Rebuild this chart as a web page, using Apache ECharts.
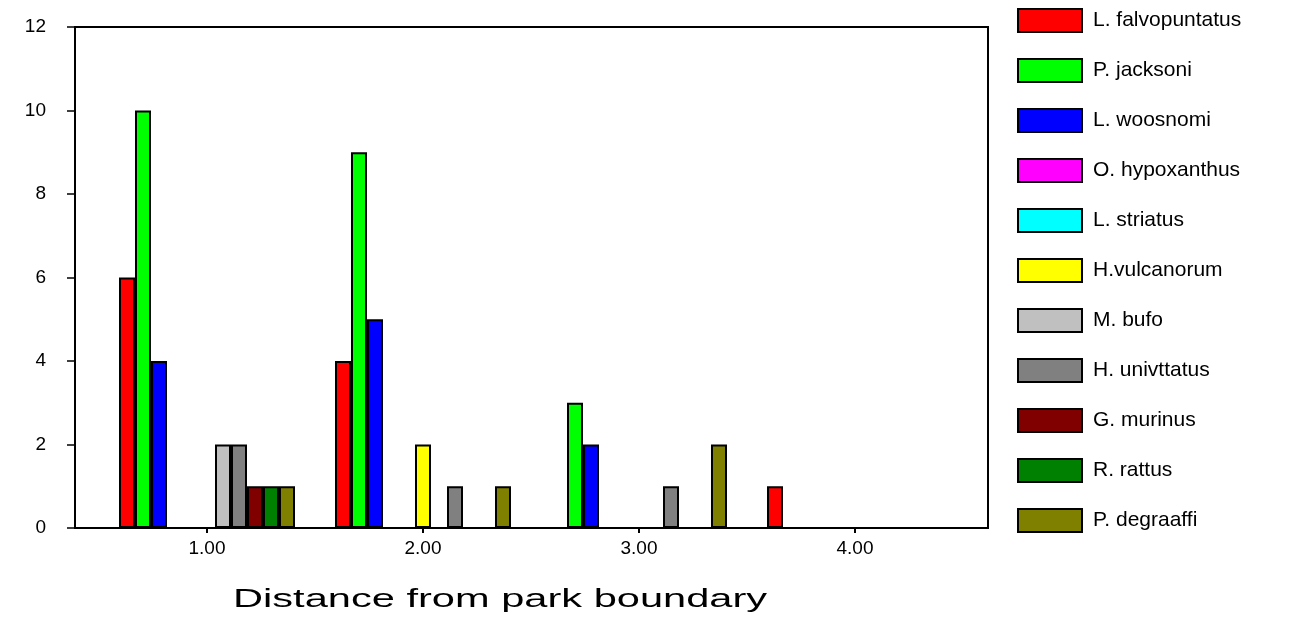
<!DOCTYPE html>
<html>
<head>
<meta charset="utf-8">
<script src="https://cdn.jsdelivr.net/npm/echarts@6/dist/echarts.min.js"></script>
<style>html,body{margin:0;padding:0;background:#fff;}#c{width:1311px;height:619px;}</style>
</head>
<body>
<div id="c"></div>
<script>
var categories = ['1.00', '2.00', '3.00', '4.00'];
var speciesNames = ['L. falvopuntatus', 'P. jacksoni', 'L. woosnomi', 'O. hypoxanthus', 'L. striatus', 'H.vulcanorum', 'M. bufo', 'H. univttatus', 'G. murinus', 'R. rattus', 'P. degraaffi'];
var speciesColors = ['#ff0000', '#00ff00', '#0000ff', '#ff00ff', '#00ffff', '#ffff00', '#c0c0c0', '#808080', '#800000', '#008000', '#808000'];
var lFalvopuntatus = [6, 4, 0, 1];
var pJacksoni = [10, 9, 3, 0];
var lWoosnomi = [4, 5, 2, 0];
var oHypoxanthus = [0, 0, 0, 0];
var lStriatus = [0, 0, 0, 0];
var hVulcanorum = [0, 2, 0, 0];
var mBufo = [2, 0, 0, 0];
var hUnivttatus = [2, 1, 1, 0];
var gMurinus = [1, 0, 0, 0];
var rRattus = [1, 0, 0, 0];
var pDegraaffi = [1, 1, 2, 0];
var yTicks = [0, 2, 4, 6, 8, 10, 12];
var xTitle = 'Distance from park boundary';

var seriesValues = [lFalvopuntatus, pJacksoni, lWoosnomi, oHypoxanthus, lStriatus, hVulcanorum, mBufo, hUnivttatus, gMurinus, rRattus, pDegraaffi];

var FONT = '"Liberation Sans", Arial, sans-serif';
var chart = echarts.init(document.getElementById('c'), null, {renderer: 'canvas'});

var series = speciesNames.map(function (name, i) {
  return {
    name: name,
    type: 'bar',
    xAxisIndex: 0,
    yAxisIndex: 0,
    data: seriesValues[i],
    barWidth: 16,
    barGap: '0%',
    itemStyle: {color: speciesColors[i], borderColor: '#000', borderWidth: 2},
    emphasis: {disabled: true},
    animation: false
  };
});

chart.setOption({
  animation: false,
  backgroundColor: '#fff',
  grid: [
    {left: 99, right: 348, top: 27, bottom: 91, containLabel: false},
    {left: 75, right: 323, top: 27, bottom: 91, containLabel: false, show: true, borderColor: '#000', borderWidth: 2, backgroundColor: 'transparent', z: 0}
  ],
  xAxis: [
    {
      type: 'category', gridIndex: 0, data: categories,
      axisLine: {show: false},
      axisTick: {show: true, alignWithLabel: true, length: 5, lineStyle: {color: '#000', width: 2}},
      axisLabel: {color: '#000', fontSize: 19, fontFamily: FONT, margin: 11},
      splitLine: {show: false}
    },
    {
      type: 'value', gridIndex: 1, min: 0, max: 1,
      axisLine: {show: true, onZero: false, lineStyle: {color: '#000', width: 2}},
      axisTick: {show: false}, axisLabel: {show: false}, splitLine: {show: false}
    }
  ],
  yAxis: [
    {type: 'value', gridIndex: 0, min: 0, max: 12, interval: 2, show: false, splitLine: {show: false}},
    {
      type: 'value', gridIndex: 1, min: yTicks[0], max: yTicks[yTicks.length - 1], interval: 2,
      axisLine: {show: true, lineStyle: {color: '#000', width: 2}},
      axisTick: {show: true, inside: false, length: 8, lineStyle: {color: '#000', width: 1.5}},
      axisLabel: {color: '#000', fontSize: 19, fontFamily: FONT, margin: 29},
      splitLine: {show: false}
    }
  ],
  legend: {
    orient: 'vertical',
    left: 1012,
    top: 3,
    itemWidth: 64,
    itemHeight: 23,
    itemGap: 25,
    icon: 'rect',
    selectedMode: false,
    data: speciesNames,
    itemStyle: {borderColor: '#000', borderWidth: 2},
    textStyle: {color: '#000', fontSize: 21, lineHeight: 24, fontFamily: FONT, padding: [0, 0, 0, 6]}
  },
  graphic: [
    {
      type: 'text', x: 233, y: 600, scaleX: 1.6, scaleY: 1, silent: true,
      style: {text: xTitle, fill: '#000', font: '26px ' + FONT, textVerticalAlign: 'middle', textAlign: 'left'}
    }
  ],
  series: series
});
</script>
</body>
</html>
